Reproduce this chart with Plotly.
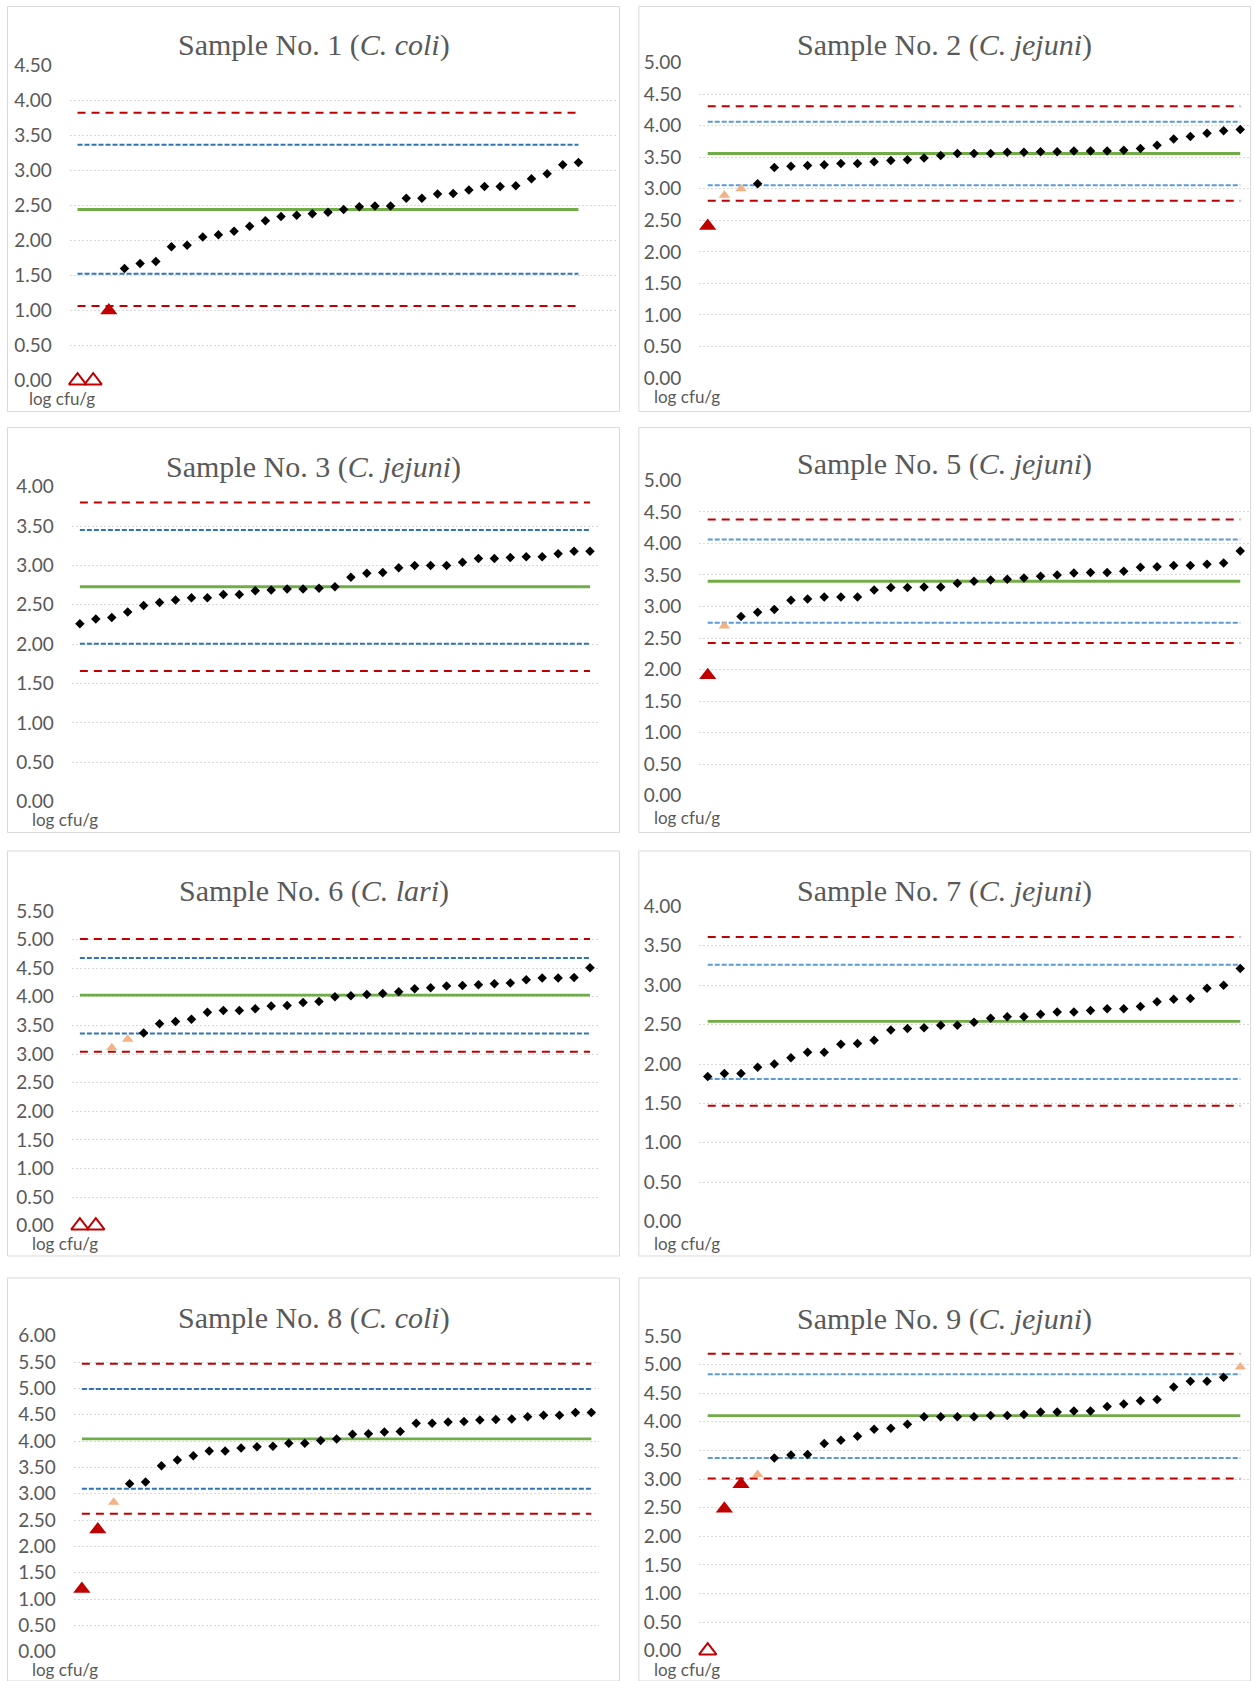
import plotly.graph_objects as go

# ---------------- data ----------------
sample_no = ["1", "2", "3", "5", "6", "7", "8", "9"]
species = ["C. coli", "C. jejuni", "C. jejuni", "C. jejuni", "C. lari", "C. jejuni", "C. coli", "C. jejuni"]
y_max = [4.5, 5.0, 4.0, 5.0, 5.5, 4.0, 6.0, 5.5]
y_unit = "log cfu/g"

# result categories: "nd" = open triangle at 0, "out" = red triangle,
# "warn" = peach triangle, "ok" = black diamond
s1_values = [0.00, 0.00, 1.00, 1.60, 1.67, 1.70, 1.91, 1.93, 2.05, 2.08, 2.13, 2.20, 2.28, 2.34, 2.36, 2.38,
             2.40, 2.44, 2.48, 2.49, 2.49, 2.60, 2.60, 2.66, 2.67, 2.72, 2.77, 2.77, 2.78, 2.88, 2.95, 3.08, 3.11]
s1_types = ["nd", "nd", "out"] + ["ok"] * 30

s2_values = [2.41, 2.90, 3.00, 3.08, 3.34, 3.36, 3.37, 3.38, 3.40, 3.40, 3.43, 3.45, 3.46, 3.49, 3.53, 3.56,
             3.56, 3.56, 3.58, 3.58, 3.59, 3.59, 3.60, 3.60, 3.60, 3.61, 3.64, 3.69, 3.79, 3.83, 3.88, 3.92, 3.94]
s2_types = ["out", "warn", "warn"] + ["ok"] * 30

s3_values = [2.26, 2.32, 2.34, 2.41, 2.49, 2.53, 2.56, 2.59, 2.59, 2.63, 2.63, 2.68, 2.69, 2.70, 2.70, 2.71,
             2.73, 2.85, 2.90, 2.91, 2.97, 3.00, 3.00, 3.00, 3.04, 3.09, 3.09, 3.10, 3.11, 3.11, 3.15, 3.18, 3.18]
s3_types = ["ok"] * 33

s5_values = [1.91, 2.69, 2.84, 2.91, 2.95, 3.10, 3.12, 3.15, 3.15, 3.15, 3.26, 3.30, 3.30, 3.31, 3.31, 3.37,
             3.40, 3.42, 3.43, 3.45, 3.48, 3.50, 3.53, 3.54, 3.54, 3.56, 3.62, 3.63, 3.65, 3.65, 3.67, 3.69, 3.88]
s5_types = ["out", "warn"] + ["ok"] * 31

s6_values = [0.00, 0.00, 3.11, 3.26, 3.37, 3.53, 3.57, 3.61, 3.73, 3.76, 3.76, 3.79, 3.84, 3.85, 3.90, 3.92,
             4.00, 4.02, 4.04, 4.06, 4.09, 4.14, 4.16, 4.19, 4.20, 4.21, 4.23, 4.24, 4.30, 4.33, 4.33, 4.34, 4.51]
s6_types = ["nd", "nd", "warn", "warn"] + ["ok"] * 29

s7_values = [1.84, 1.88, 1.88, 1.96, 2.00, 2.08, 2.15, 2.15, 2.25, 2.26, 2.30, 2.43, 2.45, 2.46, 2.49, 2.49,
             2.53, 2.58, 2.60, 2.60, 2.63, 2.66, 2.66, 2.68, 2.70, 2.70, 2.73, 2.79, 2.82, 2.83, 2.96, 3.00, 3.21]
s7_types = ["ok"] * 33

s8_values = [1.19, 2.32, 2.84, 3.19, 3.22, 3.53, 3.64, 3.72, 3.81, 3.81, 3.87, 3.89, 3.90, 3.96, 3.96, 4.01,
             4.04, 4.13, 4.14, 4.17, 4.18, 4.34, 4.34, 4.36, 4.37, 4.40, 4.41, 4.42, 4.46, 4.49, 4.49, 4.54, 4.54]
s8_types = ["out", "out", "warn"] + ["ok"] * 30

s9_values = [0.00, 2.48, 2.91, 3.08, 3.37, 3.42, 3.43, 3.62, 3.68, 3.75, 3.87, 3.89, 3.96, 4.09, 4.09, 4.09,
             4.09, 4.11, 4.11, 4.13, 4.17, 4.17, 4.19, 4.19, 4.27, 4.31, 4.37, 4.39, 4.61, 4.71, 4.71, 4.78, 4.96]
s9_types = ["nd", "out", "out", "warn"] + ["ok"] * 28 + ["warn"]

# reference lines: [upper action, upper warning, assigned value, lower warning, lower action]
s1_limits = [3.82, 3.365, 2.44, 1.525, 1.065]
s2_limits = [4.31, 4.065, 3.56, 3.055, 2.81]
s3_limits = [3.80, 3.45, 2.73, 2.006, 1.66]
s5_limits = [4.38, 4.06, 3.40, 2.74, 2.42]
s6_limits = [5.01, 4.68, 4.03, 3.36, 3.04]
s7_limits = [3.61, 3.26, 2.54, 1.81, 1.47]
s8_limits = [5.47, 4.99, 4.04, 3.095, 2.62]
s9_limits = [5.19, 4.83, 4.11, 3.37, 3.01]

all_values = [s1_values, s2_values, s3_values, s5_values, s6_values, s7_values, s8_values, s9_values]
all_types = [s1_types, s2_types, s3_types, s5_types, s6_types, s7_types, s8_types, s9_types]
all_limits = [s1_limits, s2_limits, s3_limits, s5_limits, s6_limits, s7_limits, s8_limits, s9_limits]

# ---------------- layout (pixel geometry) ----------------
W, H = 1254, 1681


def fx(x):
    return x / W


def fy(y):
    return 1 - y / H


# plot-area left, right, y pixel of 0, y pixel of max, x range max
geom = [
    (69.7, 616.0, 380.7, 65.0, 34.4),
    (699.4, 1248.6, 378.0, 62.7, 32.5),
    (71.9, 598.0, 801.7, 486.7, 32.5),
    (699.4, 1248.6, 795.7, 480.3, 32.5),
    (71.9, 598.0, 1225.7, 911.0, 32.5),
    (699.4, 1248.6, 1221.7, 906.3, 32.5),
    (73.9, 599.3, 1651.7, 1335.7, 32.5),
    (699.4, 1248.6, 1650.7, 1336.0, 32.5),
]
borders = [
    (7.5, 619.5, 6.5, 411.5), (638.8, 1250.5, 6.5, 411.5),
    (7.5, 619.5, 427.5, 832.5), (638.8, 1250.5, 427.5, 832.5),
    (7.5, 619.5, 851.0, 1256.0), (638.8, 1250.5, 851.0, 1256.0),
    (7.5, 619.5, 1278.0, 1681.0), (638.8, 1250.5, 1278.0, 1681.0),
]
title_y = [45.3, 45.3, 467.0, 464.0, 890.8, 890.5, 1317.5, 1319.0]
unit_pos = [(26.6, 398.5), (651.7, 396.5), (29.7, 819.5), (651.7, 817.0),
            (29.7, 1243.5), (651.7, 1243.0), (29.7, 1669.0), (651.7, 1669.5)]

RED = "#c00000"
GREEN = "#70ad47"
BLUE_L = "#2e75b6"
BLUE_R = "#5b9bd5"
PEACH = "#f4b183"
GREY_TXT = "#595959"
GRID = "#d9d9d9"

fig = go.Figure()
layout = dict(
    width=W, height=H, margin=dict(l=0, r=0, t=0, b=0, pad=0, autoexpand=False),
    paper_bgcolor="white", plot_bgcolor="white", showlegend=False,
    shapes=[], annotations=[],
)

for i in range(8):
    xa = "x" if i == 0 else f"x{i+1}"
    ya = "y" if i == 0 else f"y{i+1}"
    xkey = "xaxis" if i == 0 else f"xaxis{i+1}"
    ykey = "yaxis" if i == 0 else f"yaxis{i+1}"
    left, right, y0p, ytp, xr = geom[i]
    vals = all_values[i]
    types = all_types[i]
    lim = all_limits[i]
    n = len(vals)
    idx = list(range(n))
    blue = BLUE_L if i % 2 == 0 else BLUE_R

    layout[xkey] = dict(domain=[fx(left), fx(right)], range=[-0.5, xr], visible=False,
                        anchor=ya, fixedrange=True, automargin=False)
    layout[ykey] = dict(domain=[fy(y0p), fy(ytp)], range=[-0.0005, y_max[i] + 0.0005],
                        anchor=xa, tickmode="linear", tick0=0, dtick=0.5, tickformat=".2f",
                        showgrid=True, gridcolor=GRID, gridwidth=1.3, griddash="2px,2px",
                        zeroline=False, showline=False, ticks="", ticklabelstandoff=17,
                        automargin=False, fixedrange=True,
                        tickfont=dict(family="Lato", size=19, color=GREY_TXT))

    # reference lines
    line_styles = [
        dict(color=RED, width=2, dash="8px,6px"),
        dict(color=blue, width=2, dash="5px,2px"),
        dict(color=GREEN, width=2.8),
        dict(color=blue, width=2, dash="5px,2px"),
        dict(color=RED, width=2, dash="8px,6px"),
    ]
    order = [0, 4, 1, 3, 2]
    for k in order:
        fig.add_trace(go.Scatter(x=[idx[0], idx[-1]], y=[lim[k], lim[k]], mode="lines",
                                 line=line_styles[k], xaxis=xa, yaxis=ya, hoverinfo="skip"))

    # markers
    marker_styles = {
        "ok": dict(symbol="diamond", size=7.3, color="black"),
        "warn": dict(symbol="triangle-up", size=10, color=PEACH),
        "out": dict(symbol="triangle-up", size=15, color=RED),
        "nd": dict(symbol="triangle-up-open", size=15, color=RED, line=dict(width=2, color=RED)),
    }
    for t in ["ok", "warn", "out", "nd"]:
        xs = [j for j in idx if types[j] == t]
        ys = [vals[j] for j in xs]
        if xs:
            fig.add_trace(go.Scatter(x=xs, y=ys, mode="markers", marker=marker_styles[t],
                                     xaxis=xa, yaxis=ya, cliponaxis=False))

    bx0, bx1, by0, by1 = borders[i]
    layout["shapes"].append(dict(type="rect", xref="paper", yref="paper",
                                 x0=fx(bx0), x1=fx(bx1), y0=fy(by1), y1=fy(by0),
                                 line=dict(color=GRID, width=1), layer="below"))
    layout["annotations"].append(dict(
        xref="paper", yref="paper", x=fx((bx0 + bx1) / 2), y=fy(title_y[i]),
        xanchor="center", yanchor="middle", showarrow=False,
        text=f"Sample No. {sample_no[i]} (<i>{species[i]}</i>)",
        font=dict(family="Liberation Serif", size=30, color=GREY_TXT)))
    ux, uy = unit_pos[i]
    layout["annotations"].append(dict(
        xref="paper", yref="paper", x=fx(ux), y=fy(uy), xanchor="left", yanchor="middle",
        showarrow=False, text=y_unit, font=dict(family="Lato", size=17, color=GREY_TXT)))

fig.update_layout(**layout)
fig.write_html("out.html", config={"displayModeBar": False},
               post_script="document.body.style.margin='0';document.body.style.overflow='hidden';")
